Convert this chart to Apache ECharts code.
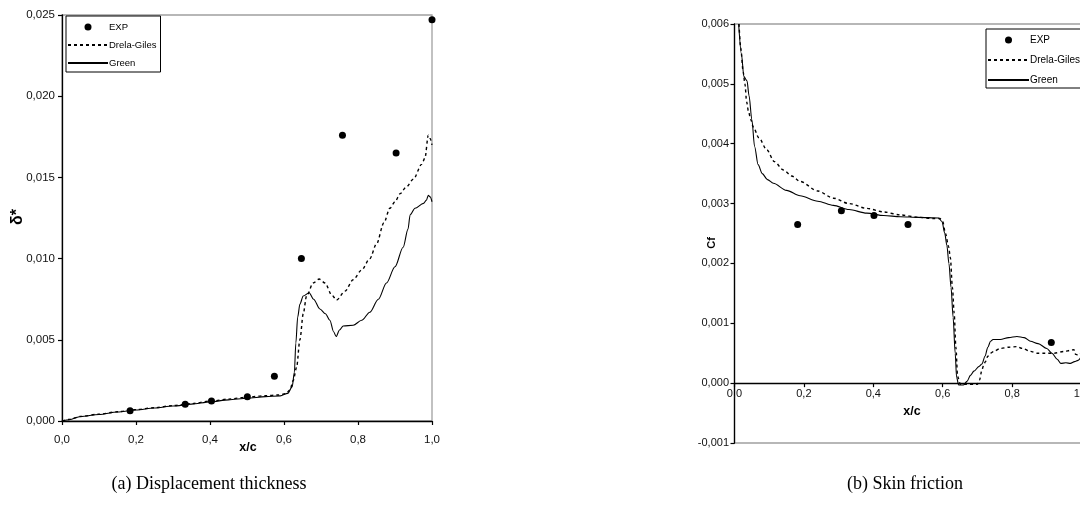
<!DOCTYPE html>
<html>
<head>
<meta charset="utf-8">
<script src="https://cdn.jsdelivr.net/npm/echarts@6/dist/echarts.min.js"></script>
<style>
  html, body { margin: 0; padding: 0; background: #fff; }
  #chart { width: 1080px; height: 507px; }
</style>
</head>
<body>
<div id="chart"></div>
<script>
// ---- (a) displacement thickness, delta* against x/c ----
const thickExp = [
  [0.184, 0.00063], [0.333, 0.00103], [0.404, 0.00123], [0.501, 0.0015],
  [0.574, 0.00275], [0.647, 0.0100], [0.758, 0.0176], [0.903, 0.0165], [1.0, 0.0247]
];
const thickDrelaGiles = [
  [0, 0], [0.02, 0.0001], [0.05, 0.00028], [0.1, 0.00042], [0.15, 0.00057], [0.2, 0.0007],
  [0.25, 0.00082], [0.3, 0.00095], [0.35, 0.00107], [0.4, 0.00122], [0.45, 0.00135],
  [0.5, 0.00147], [0.55, 0.00156], [0.585, 0.0016], [0.605, 0.00168], [0.616, 0.0019],
  [0.625, 0.0025], [0.634, 0.0033], [0.643, 0.005], [0.652, 0.0066], [0.661, 0.0077],
  [0.679, 0.0085], [0.695, 0.00874], [0.711, 0.0085], [0.729, 0.00776], [0.742, 0.00745],
  [0.765, 0.0080], [0.787, 0.0087], [0.81, 0.0093], [0.832, 0.0100], [0.85, 0.0109],
  [0.87, 0.0122], [0.886, 0.0131], [0.9, 0.0135], [0.914, 0.0140], [0.93, 0.0144],
  [0.95, 0.0149], [0.972, 0.0158], [0.981, 0.0162], [0.99, 0.0176], [0.995, 0.0174], [1.0, 0.0170]
];
const thickGreen = [
  [0, 0], [0.02, 0.00008], [0.05, 0.00028], [0.1, 0.0004], [0.15, 0.00055], [0.2, 0.00068],
  [0.25, 0.0008], [0.3, 0.00092], [0.35, 0.00104], [0.4, 0.00118], [0.45, 0.0013],
  [0.5, 0.0014], [0.55, 0.0015], [0.59, 0.00155], [0.61, 0.0017], [0.622, 0.0021],
  [0.628, 0.003], [0.632, 0.0048], [0.637, 0.0064], [0.643, 0.0072], [0.652, 0.0077],
  [0.668, 0.0079], [0.68, 0.0075], [0.697, 0.0069], [0.712, 0.0066], [0.724, 0.0062],
  [0.734, 0.0055], [0.741, 0.0052], [0.75, 0.0056], [0.76, 0.00585], [0.787, 0.0059],
  [0.81, 0.0062], [0.832, 0.0067], [0.855, 0.0075], [0.877, 0.0085], [0.9, 0.0095],
  [0.922, 0.0107], [0.935, 0.0118], [0.941, 0.0127], [0.954, 0.0131], [0.977, 0.0134],
  [0.985, 0.0136], [0.99, 0.0139], [0.995, 0.0138], [1.0, 0.0135]
];

// ---- (b) skin friction, Cf against x/c ----
const frictionExp = [
  [0.182, 0.00265], [0.308, 0.00288], [0.402, 0.0028], [0.5, 0.00265], [0.913, 0.00068]
];
const frictionDrelaGiles = [
  [0.013, 0.006], [0.018, 0.0056], [0.025, 0.0052], [0.03, 0.005], [0.035, 0.0047],
  [0.04, 0.00455], [0.047, 0.0044], [0.054, 0.00428], [0.07, 0.0041], [0.093, 0.0039],
  [0.115, 0.0037], [0.141, 0.00356], [0.165, 0.00346], [0.189, 0.00337], [0.24, 0.00321],
  [0.285, 0.00309], [0.33, 0.003], [0.381, 0.00292], [0.43, 0.00286], [0.478, 0.00281],
  [0.53, 0.00277], [0.574, 0.00275], [0.592, 0.00275], [0.6, 0.0027], [0.608, 0.0025],
  [0.617, 0.00228], [0.622, 0.0021], [0.628, 0.0016], [0.633, 0.00117], [0.638, 0.0006],
  [0.643, 0.00011], [0.651, -0.00002], [0.7, -0.00002], [0.706, 0.00005], [0.713, 0.00022],
  [0.718, 0.0003], [0.723, 0.00036], [0.73, 0.00045], [0.737, 0.0005], [0.75, 0.00054],
  [0.766, 0.00058], [0.79, 0.0006], [0.814, 0.00061], [0.83, 0.00058], [0.853, 0.00053],
  [0.872, 0.0005], [0.892, 0.0005], [0.921, 0.0005], [0.95, 0.00053], [0.97, 0.00055],
  [0.978, 0.00056], [0.983, 0.00048], [0.99, 0.00047], [1.0, 0.00052]
];
const frictionGreen = [
  [0.012, 0.006], [0.02, 0.0055], [0.027, 0.00512], [0.036, 0.00505], [0.042, 0.0048],
  [0.05, 0.0044], [0.058, 0.00395], [0.068, 0.00365], [0.08, 0.0035], [0.095, 0.0034],
  [0.112, 0.00334], [0.15, 0.00322], [0.189, 0.00313], [0.24, 0.00304], [0.285, 0.00297],
  [0.33, 0.0029], [0.381, 0.00284], [0.43, 0.0028], [0.478, 0.00278], [0.53, 0.00277],
  [0.588, 0.00276], [0.598, 0.0027], [0.606, 0.0025], [0.612, 0.0023], [0.618, 0.002],
  [0.624, 0.0016], [0.63, 0.0011], [0.636, 0.0005], [0.64, 0.0001], [0.646, -0.00003],
  [0.66, -0.00003], [0.67, 0.00003], [0.68, 0.00013], [0.69, 0.0002], [0.705, 0.00028],
  [0.713, 0.00032], [0.722, 0.00045], [0.73, 0.0006], [0.738, 0.0007], [0.745, 0.00073],
  [0.766, 0.00073], [0.79, 0.00076], [0.814, 0.00078], [0.835, 0.00076], [0.853, 0.0007],
  [0.875, 0.00066], [0.9, 0.00058], [0.915, 0.0005], [0.93, 0.0004], [0.94, 0.00033],
  [0.955, 0.00034], [0.968, 0.00033], [0.98, 0.00036], [0.99, 0.00038], [1.0, 0.00045]
];

const seriesNames = ['EXP', 'Drela-Giles', 'Green'];
const thickTicks = { min: 0, max: 0.025, step: 0.005 };
const frictionTicks = { min: -0.001, max: 0.006, step: 0.001 };
const xTicks = { min: 0, max: 1, step: 0.2 };

const SANS = 'Liberation Sans, Arial, sans-serif';
const SERIF = 'Liberation Serif, Times New Roman, serif';
const comma = d => v => v.toFixed(d).replace('.', ',');

// plot-box geometry of the two panels
const panelA = { left: 62, top: 15, width: 370, height: 406 };
const panelB = { left: 734.5, top: 24, width: 347, height: 419 };
// the skin-friction x axis sits on Cf = 0 rather than on the bottom of its box
const zeroLift = panelB.height * (0 - frictionTicks.min) / (frictionTicks.max - frictionTicks.min);

function gridFor(box) {
  return Object.assign({
    show: true, borderColor: '#a0a0a0', borderWidth: 1.3, backgroundColor: 'transparent',
    containLabel: false, outerBoundsMode: 'none'
  }, box);
}
function xAxisFor(gridIndex, labelMargin, fontSize, offset) {
  return {
    type: 'value', gridIndex, min: xTicks.min, max: xTicks.max, interval: xTicks.step,
    position: 'bottom', offset: offset,
    axisLine: { onZero: false, lineStyle: { color: '#000', width: 1.3 } },
    axisTick: { inside: false, length: 4, lineStyle: { color: '#000', width: 1.2 } },
    axisLabel: { formatter: comma(1), margin: labelMargin, color: '#111', fontSize, fontFamily: SANS,
      showMinLabel: true, showMaxLabel: true },
    splitLine: { show: false }
  };
}
function yAxisFor(gridIndex, t, labelMargin, fontSize) {
  return {
    type: 'value', gridIndex, min: t.min, max: t.max, interval: t.step,
    axisLine: { onZero: false, lineStyle: { color: '#000', width: 1.3 } },
    axisTick: { inside: false, length: 4, lineStyle: { color: '#000', width: 1.2 } },
    axisLabel: { formatter: comma(3), margin: labelMargin, color: '#111', fontSize, fontFamily: SANS },
    splitLine: { show: false }
  };
}
function seriesFor(axisIndex, exp, dg, green) {
  return [
    { name: seriesNames[0], type: 'scatter', xAxisIndex: axisIndex, yAxisIndex: axisIndex,
      data: exp, symbol: 'circle', symbolSize: 7, itemStyle: { color: '#000', opacity: 1 }, clip: false, z: 4 },
    { name: seriesNames[1], type: 'line', xAxisIndex: axisIndex, yAxisIndex: axisIndex,
      data: dg, symbol: 'none', smooth: 0.3, smoothMonotone: 'x',
      lineStyle: { color: '#000', width: 1.4, type: [3, 3] }, z: 3 },
    { name: seriesNames[2], type: 'line', xAxisIndex: axisIndex, yAxisIndex: axisIndex,
      data: green, symbol: 'none', smooth: 0.3, smoothMonotone: 'x',
      lineStyle: { color: '#000', width: 1.1 }, z: 3 }
  ];
}
// legend rows: a dot for the measurements, plain strokes for the two methods
const noDot = { color: 'rgba(0,0,0,0)', borderColor: 'rgba(0,0,0,0)', borderWidth: 0, opacity: 0 };
function legendFor(left, top, padding, itemWidth, gap, fontSize, lineHeight) {
  return {
    data: [
      { name: seriesNames[0], icon: 'circle' },
      { name: seriesNames[1], itemStyle: noDot },
      { name: seriesNames[2], itemStyle: noDot }
    ],
    orient: 'vertical', left, top, padding, itemWidth, itemHeight: 7,
    itemGap: gap, selectedMode: false, backgroundColor: '#fff',
    borderColor: '#000', borderWidth: 1, borderRadius: 0,
    textStyle: { color: '#000', fontSize, fontFamily: SANS, lineHeight, padding: [0, 0, 0, -4] }
  };
}
function label(text, x, y, font, rotation) {
  return { type: 'text', x, y, rotation: rotation || 0, z: 10,
    style: { text, font, fill: '#000', align: 'center', verticalAlign: 'middle' } };
}

const chart = echarts.init(document.getElementById('chart'), null, { renderer: 'canvas' });
chart.setOption({
  animation: false,
  backgroundColor: '#fff',
  grid: [gridFor(panelA), gridFor(panelB)],
  xAxis: [xAxisFor(0, 13, 11.5, 0), xAxisFor(1, 5, 11, -zeroLift)],
  yAxis: [yAxisFor(0, thickTicks, 7, 11.5), yAxisFor(1, frictionTicks, 5.5, 11)],
  legend: [
    legendFor(66, 16, [5.5, 4, 3.5, 1], 40, 7, 9.5, 11),
    legendFor(986, 29, [5, 4, 2, 1], 41, 8, 10, 12)
  ],
  series: [
    ...seriesFor(0, thickExp, thickDrelaGiles, thickGreen),
    ...seriesFor(1, frictionExp, frictionDrelaGiles, frictionGreen)
  ],
  graphic: [
    label('δ*', 18, 217, 'bold 16px ' + SANS, Math.PI / 2),
    label('Cf', 712, 243, 'bold 11px ' + SANS, Math.PI / 2),
    label('x/c', 248, 448, 'bold 12.5px ' + SANS),
    label('x/c', 912, 412, 'bold 12.5px ' + SANS),
    label('(a) Displacement thickness', 209, 484, '18px ' + SERIF),
    label('(b) Skin friction', 905, 484, '18px ' + SERIF)
  ]
});
</script>
</body>
</html>
